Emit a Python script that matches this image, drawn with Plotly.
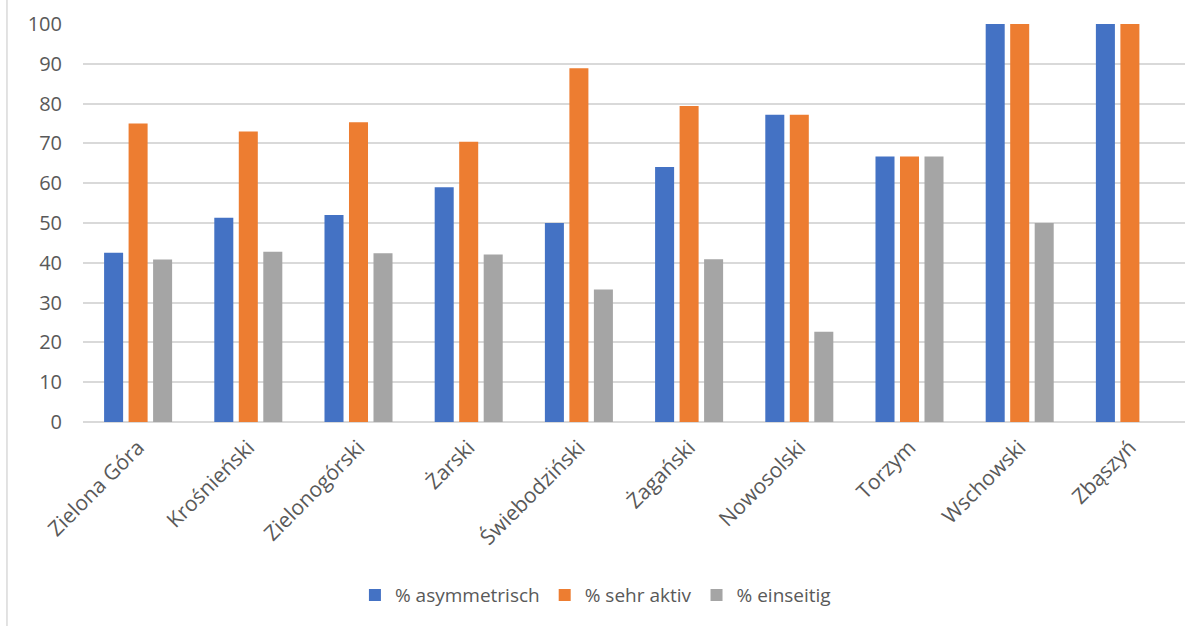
import plotly.graph_objects as go

categories = ["Zielona Góra", "Krośnieński", "Zielonogórski", "Żarski", "Świebodziński",
              "Żagański", "Nowosolski", "Torzym", "Wschowski", "Zbąszyń"]
asymmetrisch = [42.5, 51.3, 52.0, 59.0, 50.0, 64.1, 77.2, 66.7, 100, 100]
sehr_aktiv = [75.0, 73.0, 75.3, 70.4, 88.9, 79.4, 77.2, 66.7, 100, 100]
einseitig = [40.8, 42.8, 42.4, 42.1, 33.3, 40.9, 22.7, 66.7, 50.0, 0]

series_names = ["% asymmetrisch", "% sehr aktiv", "% einseitig"]
series_colors = ["#4472C4", "#ED7D31", "#A5A5A5"]

font_family = "Open Sans, Segoe UI, sans-serif"
text_color = "#595959"

fig = go.Figure()
for name, vals, col in zip(series_names, [asymmetrisch, sehr_aktiv, einseitig], series_colors):
    fig.add_trace(go.Bar(x=categories, y=vals, name=name, marker=dict(color=col, line=dict(width=0))))

fig.update_layout(
    width=1200, height=626,
    margin=dict(l=83, r=15, t=24, b=204, autoexpand=False),
    paper_bgcolor="white", plot_bgcolor="white",
    barmode="group", bargap=0.333, bargroupgap=0.224,
    font=dict(family=font_family, color=text_color, size=20),
    legend=dict(orientation="h", x=0.465, xanchor="center", y=-0.435, yanchor="middle",
                font=dict(size=19, color=text_color), itemsizing="constant",
                traceorder="normal", itemwidth=30),
    showlegend=True,
)
fig.update_xaxes(tickangle=-45, showgrid=False, showline=False, ticks="",
                 ticklabelstandoff=8,
                 tickfont=dict(size=21, color=text_color))
fig.update_yaxes(range=[0, 100], dtick=10, showgrid=True, gridcolor="#D9D9D9", gridwidth=1.5,
                 zeroline=True, zerolinecolor="#D9D9D9", zerolinewidth=1.5,
                 showline=False, ticks="", ticklabelstandoff=20,
                 tickfont=dict(size=20, color=text_color))
# chart area left border
fig.add_shape(type="line", xref="paper", yref="paper", x0=-0.069, x1=-0.069, y0=-0.52, y1=1.07,
              line=dict(color="#D9D9D9", width=1.5))

fig.write_html("out.html")
